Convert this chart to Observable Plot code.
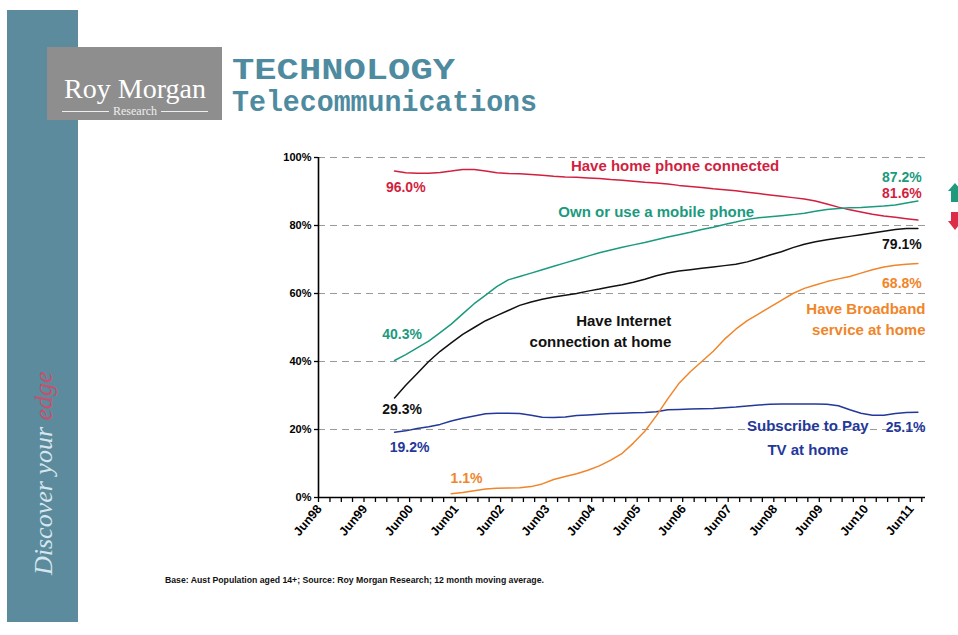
<!DOCTYPE html>
<html>
<head>
<meta charset="utf-8">
<script src="https://cdn.jsdelivr.net/npm/d3@7"></script>
<script src="https://cdn.jsdelivr.net/npm/@observablehq/plot@0.6"></script>
<style>
  html, body { margin: 0; padding: 0; background: #ffffff; }
  body { width: 958px; height: 635px; overflow: hidden; position: relative; font-family: "Liberation Sans", Arial, sans-serif; }
  #deco { position: absolute; left: 0; top: 0; }
  #chart { position: absolute; left: 0; top: 0; }
  #source { position: absolute; left: 165px; top: 575px; font: bold 8.7px "Liberation Sans", Arial, sans-serif; color: #111; white-space: nowrap; }
</style>
</head>
<body>
<svg id="deco" width="958" height="635" xmlns="http://www.w3.org/2000/svg">
  <rect x="7" y="10" width="71" height="612" fill="#5b8b9c"/>
  <rect x="47" y="47" width="175" height="73" fill="#8e8e8e"/>
  <text x="135" y="98" text-anchor="middle" font-family="Liberation Serif, serif" font-size="28" fill="#ffffff">Roy Morgan</text>
  <line x1="62" x2="109" y1="111.5" y2="111.5" stroke="#eeeeee" stroke-width="1.2"/>
  <text x="135" y="115" text-anchor="middle" font-family="Liberation Serif, serif" font-size="12" fill="#eeeeee">Research</text>
  <line x1="161" x2="208" y1="111.5" y2="111.5" stroke="#eeeeee" stroke-width="1.2"/>
  <text x="232" y="79" font-family="Liberation Mono, monospace" font-weight="bold" font-size="30" fill="#4e8ba0" textLength="223" lengthAdjust="spacingAndGlyphs">TECHNOLOGY</text>
  <text x="232" y="111" font-family="Liberation Mono, monospace" font-weight="bold" font-size="30" fill="#4e8ba0" textLength="305" lengthAdjust="spacingAndGlyphs">Telecommunications</text>
  <text transform="translate(52,575) rotate(-90)" font-family="Liberation Serif, serif" font-style="italic" font-size="26" fill="#d6e6ee">Discover your <tspan fill="#c8506c">edge</tspan></text>
  <polygon points="948,191 955,183 962,191 959,191 959,202 951,202 951,191" fill="#1f9a7c"/>
  <polygon points="951,212 959,212 959,221 962,221 955,230 948,221 951,221" fill="#dc2c48"/>
</svg>
<div id="chart"></div>
<div id="source">Base: Aust Population aged 14+; Source: Roy Morgan Research; 12 month moving average.</div>
<script>
// ---- data (12 month moving averages, %), quarterly ----
const quarters = [
  "2000-02","2000-05","2000-08","2000-11",
  "2001-02","2001-05","2001-08","2001-11",
  "2002-02","2002-05","2002-08","2002-11",
  "2003-02","2003-05","2003-08","2003-11",
  "2004-02","2004-05","2004-08","2004-11",
  "2005-02","2005-05","2005-08","2005-11",
  "2006-02","2006-05","2006-08","2006-11",
  "2007-02","2007-05","2007-08","2007-11",
  "2008-02","2008-05","2008-08","2008-11",
  "2009-02","2009-05","2009-08","2009-11",
  "2010-02","2010-05","2010-08","2010-11",
  "2011-02","2011-05","2011-08"
];
const homePhone = [96.0,95.5,95.4,95.4,95.6,96.0,96.5,96.5,96.0,95.5,
  95.3,95.2,95.0,94.8,94.5,94.3,94.2,94.0,93.8,93.5,
  93.3,93.0,92.7,92.5,92.2,91.8,91.5,91.2,90.8,90.5,
  90.2,89.8,89.4,89.0,88.6,88.2,87.8,87.2,86.3,85.4,
  84.6,84.0,83.3,82.8,82.4,82.0,81.6];
const mobilePhone = [40.3,42.0,44.0,46.0,48.5,51.0,54.0,57.0,59.5,62.0,
  64.0,65.0,66.0,67.0,68.0,69.0,70.0,71.0,72.0,72.8,
  73.6,74.3,75.0,75.8,76.6,77.3,78.0,78.8,79.5,80.3,
  81.0,81.8,82.3,82.6,82.9,83.2,83.6,84.2,84.7,85.0,
  85.2,85.3,85.5,85.7,86.0,86.6,87.2];
const internet = [29.3,33.0,36.5,40.0,43.0,45.5,48.0,50.0,52.0,53.5,
  55.0,56.5,57.5,58.3,59.0,59.5,60.0,60.7,61.3,62.0,
  62.6,63.3,64.2,65.2,66.0,66.6,67.0,67.4,67.8,68.2,
  68.6,69.3,70.3,71.3,72.3,73.5,74.5,75.2,75.8,76.3,
  76.8,77.3,77.8,78.3,78.8,79.1,79.1];
const payTV = [19.2,19.6,20.3,20.8,21.5,22.5,23.3,24.0,24.6,24.8,
  24.8,24.7,24.2,23.6,23.5,23.7,24.1,24.3,24.5,24.7,
  24.8,24.9,25.0,25.2,25.8,25.9,26.0,26.1,26.2,26.4,
  26.6,26.9,27.2,27.4,27.5,27.5,27.5,27.5,27.4,27.0,
  25.8,24.8,24.2,24.2,24.7,25.0,25.1];
const broadband = [null,null,null,null,null,1.1,1.5,2.0,2.5,2.7,
  2.8,2.9,3.2,4.0,5.3,6.2,7.0,8.0,9.3,11.0,
  13.0,16.0,19.5,24.0,29.0,33.5,37.0,40.0,43.0,46.5,
  49.5,52.0,54.0,56.0,58.0,60.0,61.5,62.5,63.5,64.3,
  65.0,66.0,67.0,67.8,68.3,68.6,68.8];

const yTicks = [0, 20, 40, 60, 80, 100];
const gridValues = [20, 40, 60, 80, 100];
const xLabelDates = ["1998-06","1999-06","2000-06","2001-06","2002-06","2003-06","2004-06",
  "2005-06","2006-06","2007-06","2008-06","2009-06","2010-06","2011-06"];
const xLabelText = ["Jun98","Jun99","Jun00","Jun01","Jun02","Jun03","Jun04",
  "Jun05","Jun06","Jun07","Jun08","Jun09","Jun10","Jun11"];
const xStart = "1998-06";
const xEnd = "2011-10";

// ---- colours ----
const RED = "#d21f3f", GREEN = "#1b9a7e", BLACK = "#111111", NAVY = "#24389a", ORANGE = "#f0852a";

const seriesList = [
  {name: "Have home phone connected", values: homePhone, color: RED},
  {name: "Own or use a mobile phone", values: mobilePhone, color: GREEN},
  {name: "Have Internet connection at home", values: internet, color: BLACK},
  {name: "Subscribe to Pay TV at home", values: payTV, color: NAVY},
  {name: "Have Broadband service at home", values: broadband, color: ORANGE}
];

const rows = seriesList.flatMap(s => quarters.map((q, i) => ({series: s.name, date: new Date(q), value: s.values[i]})))
  .filter(r => r.value != null);

// annotation text (anchored in data space)
const wordsMiddle = [
  {text: "Have home phone connected", date: "2006-04", value: 98.2, color: RED},
  {text: "Own or use a mobile phone", date: "2005-11", value: 84.7, color: GREEN},
  {text: "Subscribe to Pay\nTV at home", date: "2009-03", value: 18.2, color: NAVY}
];
const pctMiddle = [
  {text: "96.0%", date: "2000-05", value: 91.2, color: RED},
  {text: "40.3%", date: "2000-04", value: 47.9, color: GREEN},
  {text: "29.3%", date: "2000-04", value: 25.9, color: BLACK},
  {text: "19.2%", date: "2000-06", value: 14.7, color: NAVY},
  {text: "1.1%", date: "2001-09", value: 5.6, color: ORANGE}
];
const pctEnd = [
  {text: "87.2%", date: "2011-09", value: 94.0, color: GREEN},
  {text: "81.6%", date: "2011-09", value: 89.4, color: RED},
  {text: "79.1%", date: "2011-09", value: 74.4, color: BLACK},
  {text: "68.8%", date: "2011-09", value: 62.9, color: ORANGE},
  {text: "25.1%", date: "2011-10", value: 20.5, color: NAVY}
];
const wordsEnd = [
  {text: "Have Broadband\nservice at home", date: "2011-10", value: 52.9, color: ORANGE},
  {text: "Have Internet\nconnection at home", date: "2006-03", value: 49.4, color: BLACK}
];

const quarterTicks = d3.utcMonth.range(new Date(xStart), new Date(xEnd), 3);
const xLabels = xLabelDates.map((d, i) => ({date: new Date(d), text: xLabelText[i]}));

const wordOpts = {fontFamily: "Liberation Sans, Arial, sans-serif", fontWeight: "bold", fontSize: 15};
const pctOpts = {fontFamily: "Liberation Sans, Arial, sans-serif", fontWeight: "bold", fontSize: 14};

const chart = Plot.plot({
  width: 958,
  height: 635,
  marginLeft: 318,
  marginRight: 33,
  marginTop: 157,
  marginBottom: 138,
  style: {background: "transparent", fontFamily: "Liberation Sans, Arial, sans-serif", fontWeight: "bold", fontSize: "11px", color: "#000", overflow: "visible"},
  x: {type: "utc", domain: [new Date(xStart), new Date(xEnd)]},
  y: {domain: [0, 100]},
  color: {type: "identity"},
  marks: [
    Plot.ruleY(gridValues, {stroke: "#9a9a9a", strokeWidth: 1.2, strokeDasharray: "7,5"}),
    Plot.axisY({ticks: yTicks, tickFormat: d => d + "%", tickSize: 4, tickPadding: 3, label: null, strokeWidth: 1.3}),
    Plot.axisX({ticks: quarterTicks, tickFormat: () => "", tickSize: 5, label: null, strokeWidth: 1.3}),
    Plot.text(xLabels, {x: "date", y: 0, text: "text", rotate: -50, textAnchor: "end", dy: 9, dx: 1,
      fontFamily: "Liberation Sans, Arial, sans-serif", fontWeight: "bold", fontSize: 12.5, fill: "#000"}),
    Plot.ruleX([new Date(xStart)], {stroke: "#000", strokeWidth: 1.6}),
    Plot.ruleY([0], {stroke: "#000", strokeWidth: 1.6}),
    ...seriesList.map(s => Plot.line(rows.filter(r => r.series === s.name), {x: "date", y: "value", stroke: s.color, strokeWidth: 1.5})),
    Plot.text(wordsMiddle, {x: d => new Date(d.date), y: "value", text: "text", fill: "color", textAnchor: "middle", lineHeight: 1.6, ...wordOpts}),
    Plot.text(pctMiddle, {x: d => new Date(d.date), y: "value", text: "text", fill: "color", textAnchor: "middle", ...pctOpts}),
    Plot.text(pctEnd, {x: d => new Date(d.date), y: "value", text: "text", fill: "color", textAnchor: "end", ...pctOpts}),
    Plot.text(wordsEnd, {x: d => new Date(d.date), y: "value", text: "text", fill: "color", textAnchor: "end", lineHeight: 1.4, ...wordOpts})
  ]
});
document.getElementById("chart").appendChild(chart);
</script>
</body>
</html>
